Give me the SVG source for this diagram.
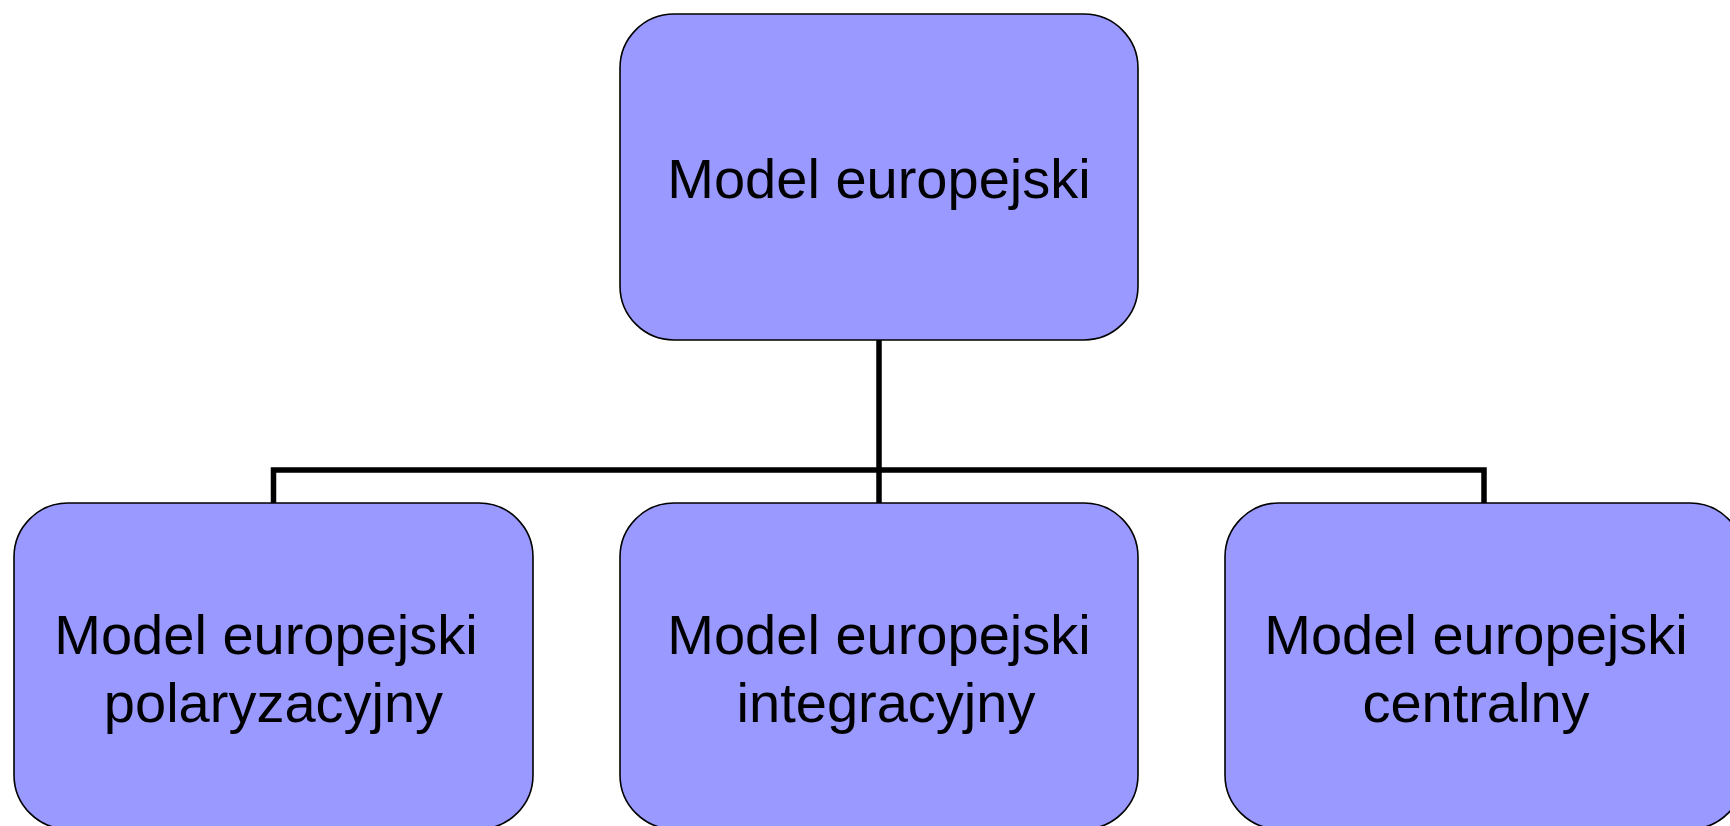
<svg xmlns="http://www.w3.org/2000/svg" width="1730" height="826" viewBox="0 0 1730 826">
<style>
.box{fill:#9999FF;stroke:#000;stroke-width:1.6}
.lbl{font-family:"Liberation Sans",Arial,sans-serif;font-size:56px;fill:#000;text-anchor:middle}
.conn{fill:none;stroke:#000;stroke-width:5.5}
</style>
<rect x="0" y="0" width="1730" height="826" fill="#fff"/>
<g id="connectors">
<path class="conn" d="M879 340 V503"/>
<path class="conn" d="M273.5 503 V470 H1484 V503"/>
</g>
<g id="n-top">
<rect class="box" x="620" y="14" width="518" height="326" rx="54" ry="54"/>
<text class="lbl" x="879" y="198">Model europejski</text>
</g>
<g id="n-polaryzacyjny">
<rect class="box" x="14" y="503" width="519" height="326" rx="54" ry="54"/>
<text class="lbl" x="266" y="654">Model europejski</text>
<text class="lbl" x="273.5" y="722">polaryzacyjny</text>
</g>
<g id="n-integracyjny">
<rect class="box" x="620" y="503" width="518" height="326" rx="54" ry="54"/>
<text class="lbl" x="879" y="654">Model europejski</text>
<text class="lbl" x="886" y="722">integracyjny</text>
</g>
<g id="n-centralny">
<rect class="box" x="1225" y="503" width="519" height="326" rx="54" ry="54"/>
<text class="lbl" x="1476" y="654">Model europejski</text>
<text class="lbl" x="1476" y="722">centralny</text>
</g>
</svg>
